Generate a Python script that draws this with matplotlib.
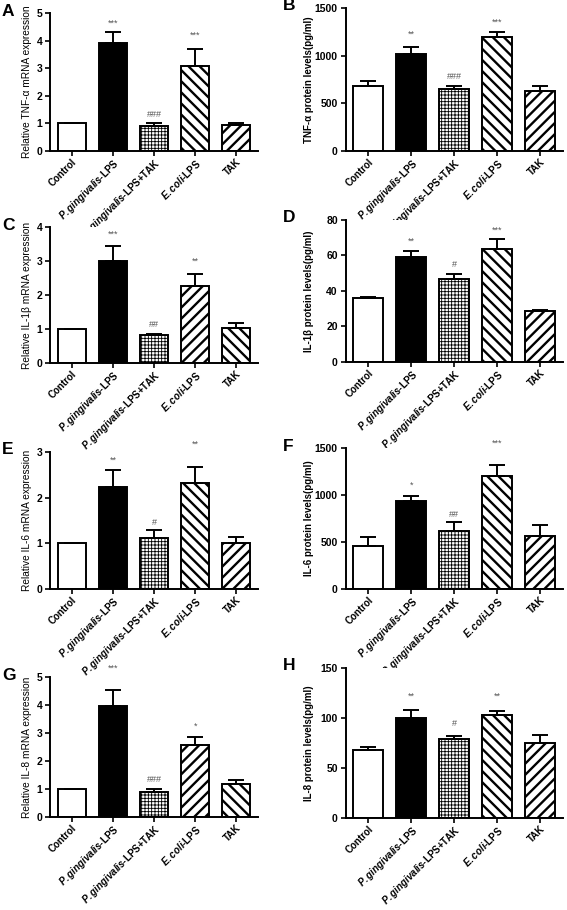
import matplotlib
matplotlib.use("Agg")
import matplotlib.pyplot as plt

plt.rcParams['font.family'] = ['Liberation Sans', 'DejaVu Sans']
plt.rcParams['mathtext.fontset'] = 'custom'
plt.rcParams['mathtext.rm'] = 'Liberation Sans:bold'
plt.rcParams['mathtext.it'] = 'Liberation Sans:italic:bold'

# groups on the x axis
tick_labels = ['Control', r'$\mathit{P.gingivalis}$-LPS', r'$\mathit{P.gingivalis}$-LPS+TAK',
               r'$\mathit{E.coli}$-LPS', 'TAK']

# A - TNF-a mRNA
tnf_mrna = [1.0, 3.90, 0.91, 3.08, 0.93]
tnf_mrna_err = [0.0, 0.42, 0.09, 0.61, 0.10]
tnf_mrna_sig = ['', '***', '###', '***', '']
tnf_mrna_sig_y = [0, 4.64, 1.34, 4.18, 0]

# B - TNF-a protein
tnf_prot = [684, 1018, 649, 1196, 628]
tnf_prot_err = [52, 70, 35, 56, 49]
tnf_prot_sig = ['', '**', '###', '***', '']
tnf_prot_sig_y = [0, 1224, 785, 1353, 0]

# C - IL-1b mRNA
il1b_mrna = [1.0, 3.0, 0.82, 2.27, 1.04]
il1b_mrna_err = [0.0, 0.43, 0.04, 0.35, 0.14]
il1b_mrna_sig = ['', '***', '##', '**', '']
il1b_mrna_sig_y = [0, 3.80, 1.14, 3.0, 0]

# D - IL-1b protein
il1b_prot = [35.8, 59.1, 46.6, 63.8, 28.5]
il1b_prot_err = [0.8, 3.7, 3.2, 5.3, 0.7]
il1b_prot_sig = ['', '**', '#', '***', '']
il1b_prot_sig_y = [0, 67.9, 55.1, 74.5, 0]

# E - IL-6 mRNA
il6_mrna = [1.0, 2.24, 1.12, 2.32, 1.0]
il6_mrna_err = [0.0, 0.37, 0.17, 0.36, 0.13]
il6_mrna_sig = ['', '**', '#', '**', '']
il6_mrna_sig_y = [0, 2.81, 1.46, 3.17, 0]

# F - IL-6 protein
il6_prot = [457, 936, 617, 1206, 560]
il6_prot_err = [96, 50, 92, 117, 117]
il6_prot_sig = ['', '*', '##', '***', '']
il6_prot_sig_y = [0, 1099, 791, 1546, 0]

# G - IL-8 mRNA
il8_mrna = [1.0, 3.95, 0.89, 2.58, 1.19]
il8_mrna_err = [0.0, 0.57, 0.11, 0.27, 0.12]
il8_mrna_sig = ['', '***', '###', '*', '']
il8_mrna_sig_y = [0, 5.32, 1.35, 3.25, 0]

# H - IL-8 protein
il8_prot = [68.3, 100.3, 79.3, 103.3, 75.3]
il8_prot_err = [3.0, 7.4, 2.4, 4.0, 8.0]
il8_prot_sig = ['', '**', '#', '**', '']
il8_prot_sig_y = [0, 121.7, 94.3, 121.7, 0]

W, H = 567, 910
fig = plt.figure(figsize=(W / 100, H / 100), dpi=100)

NE = '///'
NW = '\\\\\\'


def add_panel(letter, col, top_px, bottom_px, vals, errs, sig, sig_y, yticks, ylabel, hatches):
    if col == 0:
        left_px, right_px, lab_x, let_x = 50, 258, 32, 2
    else:
        left_px, right_px, lab_x, let_x = 345.5, 563, 314, 283
    ax = fig.add_axes([left_px / W, 1 - bottom_px / H, (right_px - left_px) / W, (bottom_px - top_px) / H])
    x = range(len(vals))
    fills = ['white', 'black', 'white', 'white', 'white']
    bar_hatch = ['', '', '+++++', hatches[0], hatches[1]]
    bars = ax.bar(x, vals, width=0.69, color=fills, edgecolor='black', linewidth=1.4, zorder=2)
    for b, h in zip(bars, bar_hatch):
        if h:
            b.set_hatch(h)
            if hasattr(b, 'set_hatch_linewidth'):
                b.set_hatch_linewidth(0.6 if '+' in h else 1.7)
    ax.errorbar(x, vals, yerr=[[0] * len(vals), errs], fmt='none', ecolor='black',
                elinewidth=1.4, capsize=6, capthick=1.4, zorder=3)
    for i, s in enumerate(sig):
        if s:
            ax.text(i, sig_y[i], s, ha='center', va='center', fontsize=6.5, color='#555555', clip_on=False)
    ax.set_xlim(-0.53, 4.53)
    ax.set_ylim(0, yticks[-1])
    ax.set_yticks(yticks)
    ax.set_xticks(list(x))
    ax.tick_params(axis='both', direction='out', length=3.5, width=1.2)
    ax.tick_params(axis='y', labelsize=7.5, pad=2)
    ax.tick_params(axis='x', pad=0.5)
    ax.set_xticklabels(tick_labels, rotation=45, ha='right', rotation_mode='anchor',
                       fontsize=7.0, fontweight='bold')
    for lab in ax.get_yticklabels():
        lab.set_fontweight('bold')
    ax.spines['top'].set_visible(False)
    ax.spines['right'].set_visible(False)
    ax.spines['left'].set_linewidth(1.4)
    ax.spines['bottom'].set_linewidth(1.4)
    if col == 0:
        ax.set_ylabel(ylabel, fontsize=7.3)
    else:
        ax.set_ylabel(ylabel, fontsize=7, fontweight='bold')
    ax.yaxis.set_label_coords((lab_x - left_px) / (right_px - left_px), 0.5)
    fig.text(let_x / W, 1 - (top_px - 2) / H, letter, fontsize=12.5, fontweight='bold',
             ha='left', va='center')
    return ax


add_panel('A', 0, 13, 151, tnf_mrna, tnf_mrna_err, tnf_mrna_sig, tnf_mrna_sig_y,
          [0, 1, 2, 3, 4, 5], 'Relative TNF-α mRNA expression', (NW, NE))
add_panel('B', 1, 8, 151, tnf_prot, tnf_prot_err, tnf_prot_sig, tnf_prot_sig_y,
          [0, 500, 1000, 1500], 'TNF-α protein levels(pg/ml)', (NW, NE))
add_panel('C', 0, 227, 363, il1b_mrna, il1b_mrna_err, il1b_mrna_sig, il1b_mrna_sig_y,
          [0, 1, 2, 3, 4], 'Relative IL-1β mRNA expression', (NE, NW))
add_panel('D', 1, 220, 362, il1b_prot, il1b_prot_err, il1b_prot_sig, il1b_prot_sig_y,
          [0, 20, 40, 60, 80], 'IL-1β protein levels(pg/ml)', (NW, NE))
add_panel('E', 0, 452, 589, il6_mrna, il6_mrna_err, il6_mrna_sig, il6_mrna_sig_y,
          [0, 1, 2, 3], 'Relative IL-6 mRNA expression', (NW, NE))
add_panel('F', 1, 448, 589, il6_prot, il6_prot_err, il6_prot_sig, il6_prot_sig_y,
          [0, 500, 1000, 1500], 'IL-6 protein levels(pg/ml)', (NW, NE))
add_panel('G', 0, 677, 817, il8_mrna, il8_mrna_err, il8_mrna_sig, il8_mrna_sig_y,
          [0, 1, 2, 3, 4, 5], 'Relative IL-8 mRNA expression', (NE, NW))
add_panel('H', 1, 668, 818, il8_prot, il8_prot_err, il8_prot_sig, il8_prot_sig_y,
          [0, 50, 100, 150], 'IL-8 protein levels(pg/ml)', (NW, NE))

fig.savefig('out.png', dpi=100)
